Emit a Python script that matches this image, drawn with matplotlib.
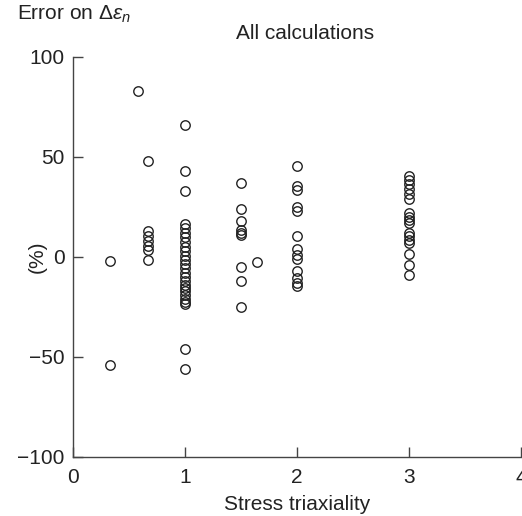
import matplotlib.pyplot as plt

plt.rcParams["font.family"] = ["Liberation Sans", "DejaVu Sans"]
plt.rcParams["mathtext.fontset"] = "custom"
plt.rcParams["mathtext.it"] = "Liberation Sans:italic"
plt.rcParams["mathtext.rm"] = "Liberation Sans"

# triaxiality values and errors (%)
x_third = [1 / 3, 1 / 3]
y_third = [-2, -54]

x_058 = [0.577]
y_058 = [83]

x_067 = [2 / 3] * 7
y_067 = [48, 12.7, 10.5, 8, 5.5, 3.2, -1.7]

x_1 = [1.0] * 26
y_1 = [66, 43, 33, 16.5, 14.5, 12, 10, 7.5, 5, 3, 0.5, -1.5, -3.5, -5.5, -8,
       -10, -12, -14, -15.5, -17, -19, -21, -22.5, -23.5, -46, -56]

x_15 = [1.5] * 9
y_15 = [37, 24, 18, 13.3, 12, 11, -5, -12, -25]

x_165 = [1.646]
y_165 = [-2.5]

x_2 = [2.0] * 13
y_2 = [45.5, 35.5, 33.3, 25, 22.8, 10.5, 3.7, 0.8, -1.2, -7.2, -10.8, -13.3, -14.5]

x_3 = [3.0] * 17
y_3 = [40.5, 38.5, 36.5, 34, 31.5, 29, 21.7, 20, 18.5, 16.7, 11.7, 10.2, 8.5,
       6.7, 1.5, -4, -9]

xs = x_third + x_058 + x_067 + x_1 + x_15 + x_165 + x_2 + x_3
ys = y_third + y_058 + y_067 + y_1 + y_15 + y_165 + y_2 + y_3

fs = 15

fig = plt.figure(figsize=(5.22, 5.16), dpi=100)
ax = fig.add_axes([0.14, 0.115, 0.858, 0.775])

ax.plot(xs, ys, linestyle="none", marker="o", markersize=6.8,
        markerfacecolor="none", markeredgecolor="#222222", markeredgewidth=1.0,
        clip_on=False)

ax.set_xlim(0, 4)
ax.set_ylim(-100, 100)
ax.set_xticks([0, 1, 2, 3, 4])
ax.set_yticks([-100, -50, 0, 50, 100])

spines = ax.spines
spines["top"].set_color("none")
spines["right"].set_color("none")
spines["left"].set_color("#444444")
spines["bottom"].set_color("#444444")
spines["left"].set_linewidth(1.0)
spines["bottom"].set_linewidth(1.0)

ax.tick_params(direction="in", length=7, width=1.0, color="#444444",
               labelsize=fs, labelcolor="#222222")
ax.tick_params(axis="x", pad=8)
ax.tick_params(axis="y", pad=6)

ax.set_xlabel("Stress triaxiality", fontsize=fs, color="#222222", labelpad=6)
ax.set_ylabel("(%)", fontsize=fs, color="#222222", va="center")
ax.yaxis.set_label_coords(-0.08, 0.5)

fig.text(0.032, 0.972, r"Error on $\Delta\varepsilon_n$", fontsize=fs,
         color="#222222", va="center", ha="left")
fig.text(0.584, 0.935, "All calculations", fontsize=fs, color="#222222",
         va="center", ha="center")

plt.savefig("out.png")
